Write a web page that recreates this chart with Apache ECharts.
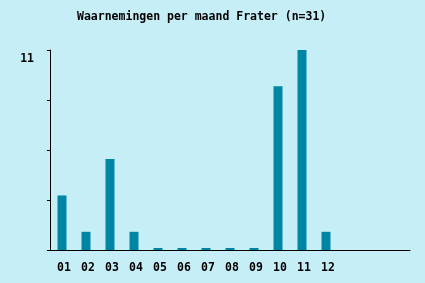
<!DOCTYPE html>
<html>
<head>
<meta charset="utf-8">
<script src="https://cdn.jsdelivr.net/npm/echarts@6/dist/echarts.min.js"></script>
<style>
html,body{margin:0;padding:0;background:#c6eef7;}
#c{width:425px;height:283px;}
</style>
</head>
<body>
<div id="c"></div>
<script>
const titleText = 'Waarnemingen per maand Frater (n=31)';
const categories = ['01','02','03','04','05','06','07','08','09','10','11','12'];
const values = [3, 1, 5, 1, 0, 0, 0, 0, 0, 9, 11, 1];
const yMax = 11;
const emptySlots = 3;

const slots = categories.concat(new Array(emptySlots).fill(''));
const chart = echarts.init(document.getElementById('c'), null, {renderer: 'canvas'});
const font = "'DejaVu Sans Mono', monospace";
chart.setOption({
  backgroundColor: '#c6eef7',
  animation: false,
  title: {
    text: titleText,
    left: 72,
    top: 6,
    textStyle: {fontFamily: font, fontSize: 11.5, fontWeight: 'bold', color: '#000'}
  },
  grid: {left: 50, right: 15, top: 50, bottom: 33, containLabel: false},
  xAxis: {
    type: 'category',
    data: slots,
    boundaryGap: true,
    axisLine: {lineStyle: {color: '#000', width: 1}},
    axisTick: {
      alignWithLabel: true,
      length: 4,
      lineStyle: {color: '#000'},
      interval: function (idx) { return idx < categories.length; }
    },
    axisLabel: {
      interval: 0,
      margin: 12,
      fontFamily: font, fontSize: 11.5, fontWeight: 'bold', color: '#000',
      padding: [0, 0, 0, 4]
    },
    splitLine: {show: false}
  },
  yAxis: {
    type: 'value',
    min: 0,
    max: yMax,
    interval: yMax / 4,
    axisLine: {show: true, lineStyle: {color: '#000', width: 1}},
    axisTick: {show: true, length: 3, lineStyle: {color: '#000'}},
    splitLine: {show: false},
    axisLabel: {
      margin: 16,
      fontFamily: font, fontSize: 11.5, fontWeight: 'bold', color: '#000',
      verticalAlign: 'top',
      padding: [3, 0, 0, 0],
      formatter: function (v) { return Math.abs(v - yMax) < 1e-9 ? String(yMax) : ''; }
    }
  },
  series: [{
    type: 'bar',
    data: values,
    barWidth: 9,
    barMinHeight: 2,
    itemStyle: {color: '#0085a5'}
  }]
});
</script>
</body>
</html>
